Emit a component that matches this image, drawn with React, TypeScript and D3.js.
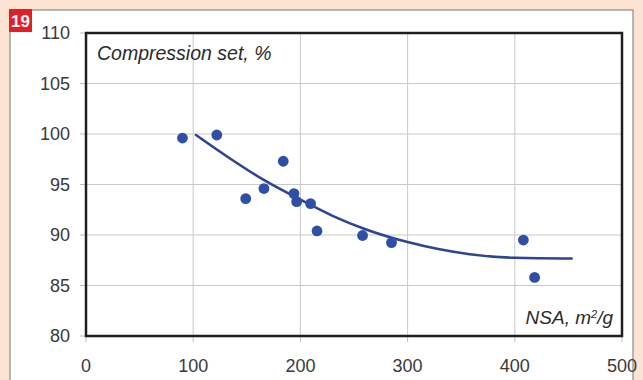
import React from 'react';
import * as d3 from 'd3';

// measured points: NSA (m2/g) vs compression set (%)
const nsaValues = [90, 122, 149, 166, 184, 194, 196.5, 209.5, 215.5, 258, 285, 408, 418.5];
const setValues = [99.6, 99.9, 93.6, 94.6, 97.3, 94.1, 93.3, 93.1, 90.4, 89.95, 89.25, 89.5, 85.8];

// trend line
const trendNsa = [102.6, 134, 165, 200, 230, 260, 300, 358, 400, 453];
const trendSet = [99.9, 97.6, 95.5, 93.5, 91.9, 90.6, 89.3, 88.1, 87.75, 87.68];

const xTicks = [0, 100, 200, 300, 400, 500];
const yTicks = [80, 85, 90, 95, 100, 105, 110];

const W = 643;
const H = 380;
const font = '"Liberation Sans", Arial, sans-serif';

export default function App() {
  const x = d3.scaleLinear().domain([0, 500]).range([86, 622]);
  const y = d3.scaleLinear().domain([80, 110]).range([336, 33]);

  const points = nsaValues.map((v, i) => ({ x: v, y: setValues[i] }));
  const trend = trendNsa.map((v, i) => ({ x: v, y: trendSet[i] }));

  const line = d3.line<{ x: number; y: number }>()
    .x(d => x(d.x))
    .y(d => y(d.y))
    .curve(d3.curveMonotoneX);

  return (
    <svg width={W} height={H} style={{ position: 'absolute', left: 0, top: 0 }} fontFamily={font}>
      <rect x={0} y={0} width={W} height={H} fill="#fde3d3" />
      {/* white panel */}
      <rect x={10} y={10} width={623} height={H} fill="#ffffff" stroke="#8a8a8a" strokeWidth={1.2} />
      {/* badge */}
      <rect x={9} y={9} width={23} height={23} fill="#e31e26" />
      <text x={20.5} y={27} textAnchor="middle" fill="#fff" fontWeight="bold" fontSize={17}>19</text>

      {/* grid */}
      {yTicks.filter(t => t > 80 && t < 110).map(t => (
        <line key={'gy' + t} x1={x(0)} x2={x(500)} y1={y(t)} y2={y(t)} stroke="#c9c9c9" strokeWidth={1} />
      ))}
      {xTicks.filter(t => t > 0 && t < 500).map(t => (
        <line key={'gx' + t} x1={x(t)} x2={x(t)} y1={y(110)} y2={y(80)} stroke="#c9c9c9" strokeWidth={1} />
      ))}

      {/* ticks and labels */}
      {yTicks.map(t => (
        <g key={'ty' + t}>
          <line x1={x(0) - 6} x2={x(0)} y1={y(t)} y2={y(t)} stroke="#bdbdbd" strokeWidth={1} />
          <text x={70} y={y(t)} dy="0.36em" textAnchor="end" fontSize={18} fill="#3a3a3a">{t}</text>
        </g>
      ))}
      {xTicks.map(t => (
        <g key={'tx' + t}>
          <line x1={x(t)} x2={x(t)} y1={y(80)} y2={y(80) + 6} stroke="#bdbdbd" strokeWidth={1} />
          <text x={x(t)} y={372} textAnchor="middle" fontSize={18} fill="#3a3a3a">{t}</text>
        </g>
      ))}

      {/* frame */}
      <rect x={x(0)} y={y(110)} width={x(500) - x(0)} height={y(80) - y(110)} fill="none" stroke="#1e1e1e" strokeWidth={2.5} />

      <text x={97} y={60} fontSize={19.5} fontStyle="italic" fill="#2a2a2a">Compression set, %</text>
      <text x={613} y={324} textAnchor="end" fontSize={19} fontStyle="italic" fill="#2a2a2a">
        NSA, m<tspan fontSize={11} dy={-6}>2</tspan><tspan dy={6}>/g</tspan>
      </text>

      <path d={line(trend) || ''} fill="none" stroke="#2e4496" strokeWidth={2.6} strokeLinecap="round" />
      {points.map((p, i) => (
        <circle key={i} cx={x(p.x)} cy={y(p.y)} r={5.4} fill="#2f4ea6" />
      ))}
    </svg>
  );
}
